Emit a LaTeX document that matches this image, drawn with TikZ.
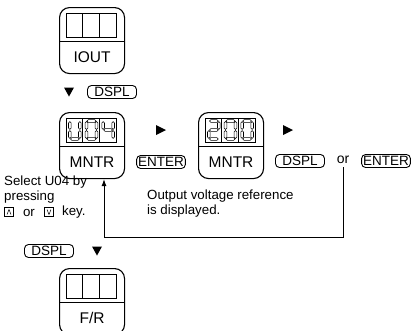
\documentclass[tikz,border=0pt]{standalone}
\usepackage{fontspec}
\setmainfont{Liberation Sans}
\usetikzlibrary{calc,arrows.meta}
\tikzset{
  dispbox/.style={draw, line width=1.1pt, rounded corners=10pt, minimum width=65pt, minimum height=66pt, inner sep=0pt, anchor=north west},
  sepline/.style={line width=0.8pt},
  cell/.style={line width=0.8pt},
  boxlabel/.style={font=\fontsize{15.5}{16}\selectfont, inner sep=0pt},
  segline/.style={draw=black, fill=white, line width=0.55pt, line join=miter},
  keybox/.style={draw, line width=0.9pt, rounded corners=4pt, inner xsep=1.5pt, inner ysep=0.5pt, minimum height=13pt, font=\fontsize{13.5}{14}\selectfont},
  dsplkey/.style={keybox, minimum width=49pt},
  txt/.style={font=\fontsize{13.3}{14.5}\selectfont, inner sep=0pt},
  conn/.style={line width=1pt},
  tri/.style={fill=black},
  smallkey/.style={draw, line width=0.6pt, minimum size=8.5pt, inner sep=0pt},
}
% hexagonal segments: horizontal \hsg{x1}{x2}{y}, vertical \vsg{x}{y1}{y2}
\newcommand\hsg[3]{\draw[segline] (#1,#3) -- ++(1.3,-1.3) -- (#2-1.3,#3-1.3) -- (#2,#3) -- (#2-1.3,#3+1.3) -- (#1+1.3,#3+1.3) -- cycle;}
\newcommand\vsg[3]{\draw[segline] (#1,#2) -- ++(1.3,1.3) -- (#1+1.3,#3-1.3) -- (#1,#3) -- (#1-1.3,#3-1.3) -- (#1-1.3,#2+1.3) -- cycle;}
\def\sga{\hsg{0.6}{9.4}{0}}
\def\sgb{\vsg{10}{0.6}{8.4}}
\def\sgc{\vsg{10}{9.6}{17.4}}
\def\sgd{\hsg{0.6}{9.4}{18}}
\def\sge{\vsg{0}{9.6}{17.4}}
\def\sgf{\vsg{0}{0.6}{8.4}}
\def\sgg{\hsg{0.6}{9.4}{9}}
\newcommand\sevenseg[3]{\begin{scope}[shift={(#1,#2)}]\foreach \s in {#3}{\csname sg\s\endcsname}\end{scope}}
\newcommand\dispunit[4]{%
  \node[dispbox] (#1) at (#2,#3) {};
  \draw[sepline] ($(#1.north west)+(0,34)$) -- ($(#1.north east)+(0,34)$);
  \draw[cell] ($(#1.north west)+(7,6)$) rectangle ($(#1.north west)+(57,30)$);
  \draw[cell] ($(#1.north west)+(23.67,6)$) -- ($(#1.north west)+(23.67,30)$);
  \draw[cell] ($(#1.north west)+(40.33,6)$) -- ($(#1.north west)+(40.33,30)$);
  \node[boxlabel] (#1-l) at ($(#1.north)+(0,50)$) {#4};
}
\begin{document}
\begin{tikzpicture}[x=1pt,y=-1pt]
\useasboundingbox (0,0) rectangle (413,330);

% display units
\dispunit{iout}{59}{7}{IOUT}
\dispunit{m1}{59}{112}{MNTR}
\dispunit{m2}{198}{112}{MNTR}
\dispunit{fr}{59}{268}{F/R}

% digits U04
\sevenseg{69.8}{121}{b,c,d,e,f}
\sevenseg{86.5}{121}{a,b,c,d,e,f}
\sevenseg{103.2}{121}{f,g,b,c}
% digits 200
\sevenseg{208.8}{121}{a,b,g,e,d}
\sevenseg{225.5}{121}{a,b,c,d,e,f}
\sevenseg{242.2}{121}{a,b,c,d,e,f}

% triangles
\fill[tri] (64,87.5) -- (74,87.5) -- (69,96.5) -- cycle;
\fill[tri] (156,125) -- (166,130) -- (156,135) -- cycle;
\fill[tri] (283,125) -- (293,130) -- (283,135) -- cycle;
\fill[tri] (92,246.5) -- (102,246.5) -- (97,255.5) -- cycle;

% keys
\node[dsplkey] (k1) at (112,92) {DSPL};
\node[keybox] (k2) at (161,162) {ENTER};
\node[dsplkey] (k3) at (300,161) {DSPL};
\node[font=\fontsize{14}{14}\selectfont, inner sep=3pt] (or) at (343,160) {or};
\node[keybox] (k4) at (386,161) {ENTER};
\node[dsplkey] (k5) at (49,251) {DSPL};

% texts
\node[txt, anchor=north west, align=left] (sel) at (4,176) {Select U04 by\\pressing};
\node[smallkey] (up) at (9,212) {};
\draw[line width=0.5pt] ($(up.center)+(-2,2.5)$) -- ($(up.center)+(0,-2.5)$) -- ($(up.center)+(2,2.5)$);
\node[txt] (or2) at (29,212.5) {or};
\node[smallkey] (dn) at (49,212) {};
\draw[line width=0.5pt] ($(dn.center)+(-2,-2.5)$) -- ($(dn.center)+(0,2.5)$) -- ($(dn.center)+(2,-2.5)$);
\node[txt, anchor=west] (key) at (62,212.5) {key.};
\node[txt, anchor=north west, align=left] (out) at (147,190) {Output voltage reference\\is displayed.};

% connector
\coordinate (c2) at (104,237);
\draw[conn,-{Latex[length=7pt,width=5pt]}] (or.south) |- (c2) -- (m1.south -| c2);
\end{tikzpicture}
\end{document}
